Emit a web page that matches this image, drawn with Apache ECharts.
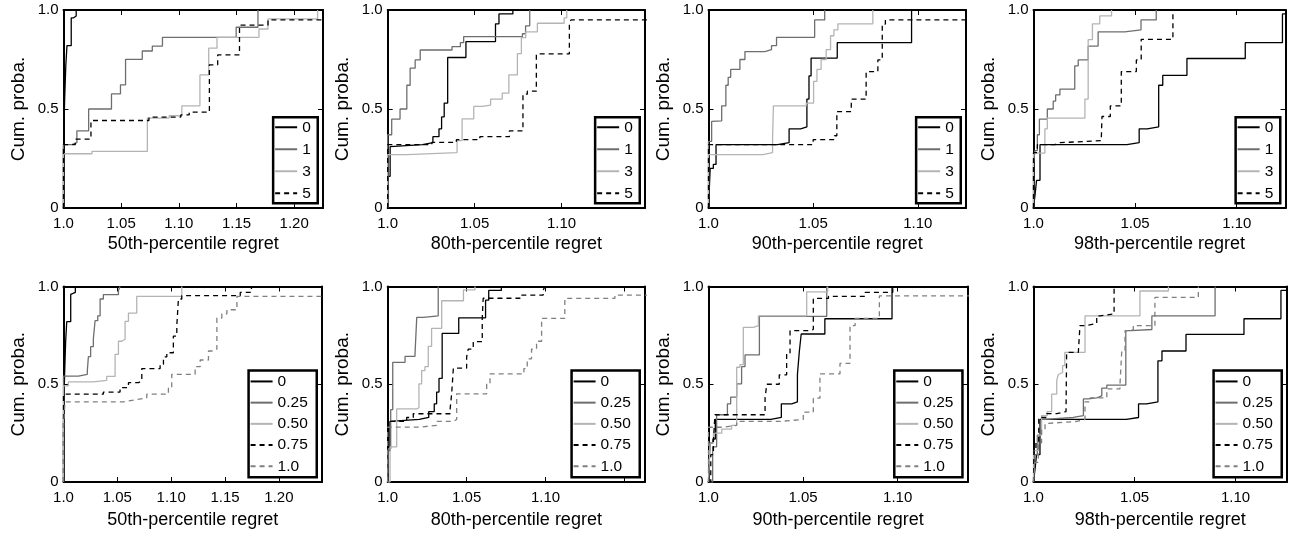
<!DOCTYPE html>
<html><head><meta charset="utf-8">
<script src="https://cdn.jsdelivr.net/npm/echarts@6/dist/echarts.min.js"></script>
<style>html,body{margin:0;padding:0;background:#fff}#c{width:1290px;height:539px}</style>
</head><body><div id="c"></div>
<script>
// ---------- DATA: step CDF points [regret, cumulative probability] ----------
// baseline "0" (shared by both rows)
const r50_0 = [[1.0,0],[1.0,0.30],[1.001,0.55],[1.002,0.72],[1.003,0.82],[1.0067,0.96],[1.0085,0.97],[1.011,1.0]];
const r80_0 = [[1.0,0],[1.0,0.16],[1.0014,0.31],[1.002,0.32],[1.02,0.33],[1.026,0.36],[1.0295,0.40],[1.031,0.46],[1.0325,0.53],[1.0345,0.76],[1.045,0.84],[1.062,0.93],[1.064,0.98],[1.072,1.0]];
const r90_0 = [[1.0,0],[1.0008,0.20],[1.0023,0.22],[1.0036,0.32],[1.033,0.33],[1.0385,0.40],[1.044,0.41],[1.047,0.55],[1.048,0.667],[1.049,0.757],[1.0615,0.835],[1.097,1.0]];
const r98_0 = [[1.0,0],[1.0008,0.07],[1.0015,0.14],[1.0032,0.32],[1.046,0.33],[1.052,0.40],[1.056,0.41],[1.0616,0.62],[1.0636,0.67],[1.0755,0.755],[1.1042,0.835],[1.1225,0.98],[1.3,0.98]];

// top row: "1", "3", "5"
const r50_1 = [[1.0,0],[1.0,0.32],[1.0073,0.33],[1.0116,0.39],[1.0218,0.50],[1.0416,0.576],[1.0494,0.622],[1.0538,0.751],[1.0683,0.793],[1.077,0.818],[1.0858,0.862],[1.1497,0.913],[1.1686,1.0]];
const r50_3 = [[1.0,0],[1.0,0.274],[1.0247,0.286],[1.0727,0.454],[1.0916,0.466],[1.1026,0.516],[1.1183,0.672],[1.1259,0.807],[1.1331,0.862],[1.1695,0.904],[1.1773,0.955],[1.2203,1.0]];
const r50_5 = [[1.0,0],[1.0,0.32],[1.0102,0.348],[1.0238,0.442],[1.0741,0.459],[1.1017,0.47],[1.109,0.484],[1.1265,0.723],[1.1337,0.773],[1.1526,0.924],[1.1773,0.95],[1.4,0.95]];

const r80_1 = [[1.0,0],[1.0,0.37],[1.0023,0.449],[1.0071,0.50],[1.011,0.62],[1.0129,0.706],[1.0158,0.748],[1.0187,0.798],[1.037,0.815],[1.0418,0.835],[1.0437,0.866],[1.0775,0.88],[1.0793,0.92],[1.0817,1.0]];
const r80_3 = [[1.0,0],[1.0,0.27],[1.011,0.28],[1.0399,0.34],[1.0428,0.45],[1.0495,0.513],[1.0543,0.52],[1.0592,0.55],[1.0659,0.58],[1.0697,0.672],[1.0746,0.78],[1.0769,0.86],[1.0794,0.89],[1.0861,0.933],[1.1015,0.96],[1.103,1.0]];
const r80_5 = [[1.0,0],[1.0,0.32],[1.0254,0.331],[1.0395,0.345],[1.053,0.36],[1.07,0.39],[1.0778,0.575],[1.0803,0.59],[1.0855,0.778],[1.1045,0.935],[1.1055,0.95],[1.4,0.95]];

const r90_1 = [[1.0,0],[1.0,0.336],[1.0015,0.437],[1.0023,0.44],[1.0063,0.516],[1.0083,0.62],[1.0094,0.66],[1.0106,0.70],[1.015,0.75],[1.0174,0.79],[1.0269,0.80],[1.0301,0.82],[1.0325,0.862],[1.0507,0.95],[1.0555,1.0]];
const r90_3 = [[1.0,0],[1.0,0.27],[1.0261,0.28],[1.0306,0.35],[1.031,0.516],[1.0467,0.53],[1.0502,0.64],[1.0518,0.70],[1.0538,0.75],[1.0562,0.80],[1.0583,0.87],[1.0599,0.90],[1.0618,0.93],[1.0785,1.0]];
const r90_5 = [[1.0,0],[1.0,0.32],[1.05,0.345],[1.0602,0.365],[1.0613,0.487],[1.0682,0.55],[1.0753,0.689],[1.0809,0.748],[1.083,0.929],[1.0845,0.95],[1.4,0.95]];

const r98_1 = [[1.0,0],[1.0,0.227],[1.0007,0.29],[1.0019,0.37],[1.0029,0.449],[1.0068,0.50],[1.0097,0.54],[1.0109,0.571],[1.013,0.60],[1.0203,0.718],[1.022,0.748],[1.0269,0.818],[1.0318,0.89],[1.0449,0.90],[1.0529,0.95],[1.0604,1.0]];
const r98_3 = [[1.0,0],[1.0,0.277],[1.0056,0.40],[1.0068,0.454],[1.0253,0.55],[1.0269,0.85],[1.029,0.93],[1.0326,0.97],[1.0384,1.0]];
const r98_5 = [[1.0,0],[1.0,0.28],[1.0019,0.32],[1.0105,0.33],[1.013,0.34],[1.0334,0.36],[1.0337,0.462],[1.0378,0.516],[1.0432,0.689],[1.0506,0.748],[1.053,0.852],[1.0686,1.0]];

// bottom row: "0.25", "0.50", "0.75", "1.0"
const s50_025 = [[1.0,0],[1.0,0.542],[1.0138,0.551],[1.0221,0.568],[1.0231,0.641],[1.0252,0.692],[1.0277,0.73],[1.0293,0.825],[1.0318,0.85],[1.034,0.936],[1.037,0.958],[1.051,0.98],[1.0525,1.0]];
const s50_050 = [[1.0,0],[1.0,0.492],[1.0045,0.512],[1.0277,0.52],[1.0401,0.54],[1.0479,0.653],[1.051,0.72],[1.0541,0.73],[1.0572,0.822],[1.0603,0.864],[1.068,0.949],[1.1098,1.0]];
const s50_075 = [[1.0,0],[1.0,0.449],[1.037,0.46],[1.0525,0.483],[1.0603,0.508],[1.0696,0.517],[1.0727,0.58],[1.0897,0.602],[1.0928,0.64],[1.0959,0.661],[1.102,0.746],[1.1052,0.80],[1.1067,0.936],[1.1098,0.953],[1.1641,0.97],[1.1745,1.0]];
const s50_100 = [[1.0,0],[1.0,0.28],[1.0014,0.41],[1.0556,0.42],[1.0665,0.43],[1.0773,0.449],[1.0974,0.483],[1.1005,0.551],[1.1222,0.59],[1.1269,0.624],[1.1346,0.67],[1.1393,0.68],[1.1424,0.839],[1.147,0.86],[1.1517,0.881],[1.161,0.949],[1.4,0.949]];

const s80_025 = [[1.0,0],[1.0004,0.17],[1.0019,0.37],[1.0032,0.612],[1.011,0.643],[1.0173,0.655],[1.0184,0.842],[1.0226,0.85],[1.032,1.0]];
const s80_050 = [[1.0,0],[1.0015,0.18],[1.0057,0.374],[1.0184,0.38],[1.0198,0.502],[1.0215,0.57],[1.0236,0.59],[1.0257,0.694],[1.0278,0.786],[1.0342,0.927],[1.048,0.983],[1.0553,1.0]];
const s80_075 = [[1.0,0],[1.0,0.31],[1.012,0.33],[1.0162,0.349],[1.0395,0.37],[1.0405,0.45],[1.0416,0.582],[1.05,0.64],[1.051,0.68],[1.0542,0.718],[1.0599,0.842],[1.0605,0.94],[1.0838,0.956],[1.0985,0.98],[1.0995,1.0]];
const s80_100 = [[1.0,0],[1.0,0.281],[1.0205,0.29],[1.031,0.31],[1.0416,0.32],[1.0437,0.451],[1.0627,0.50],[1.0648,0.553],[1.0863,0.58],[1.0884,0.63],[1.0911,0.68],[1.0943,0.72],[1.0975,0.837],[1.1122,0.939],[1.1439,0.956],[1.4,0.956]];

const s90_025 = [[1.0,0],[1.0022,0.18],[1.0043,0.344],[1.01,0.40],[1.0117,0.434],[1.0149,0.502],[1.0175,0.59],[1.0193,0.65],[1.0269,0.847],[1.0625,1.0]];
const s90_050 = [[1.0,0],[1.0008,0.20],[1.0026,0.25],[1.007,0.27],[1.0122,0.29],[1.0149,0.587],[1.0166,0.60],[1.0184,0.791],[1.0237,0.80],[1.0264,0.85],[1.0519,0.973],[1.063,1.0]];
const s90_075 = [[1.0,0],[1.0012,0.14],[1.0026,0.21],[1.0034,0.344],[1.0299,0.43],[1.0308,0.50],[1.0374,0.548],[1.0413,0.66],[1.0431,0.774],[1.0536,0.78],[1.0554,0.939],[1.0634,0.95],[1.0827,0.97],[1.0974,1.0]];
const s90_100 = [[1.0,0],[1.0,0.28],[1.0078,0.29],[1.0149,0.31],[1.0378,0.32],[1.0501,0.357],[1.0554,0.429],[1.0589,0.553],[1.0695,0.607],[1.0748,0.80],[1.0775,0.837],[1.0903,0.952],[1.4,0.952]];

const s98_025 = [[1.0,0],[1.0007,0.14],[1.0019,0.24],[1.0032,0.27],[1.004,0.32],[1.0057,0.33],[1.0197,0.34],[1.0247,0.425],[1.0272,0.43],[1.0313,0.44],[1.0338,0.48],[1.0363,0.496],[1.0457,0.774],[1.0482,0.78],[1.0586,0.85],[1.0899,1.0]];
const s98_050 = [[1.0,0],[1.0,0.16],[1.0024,0.24],[1.004,0.34],[1.0068,0.36],[1.009,0.45],[1.0115,0.52],[1.0123,0.55],[1.0131,0.56],[1.0144,0.595],[1.0155,0.663],[1.0255,0.85],[1.0527,0.977],[1.0668,1.0]];
const s98_075 = [[1.0,0],[1.0002,0.17],[1.0012,0.20],[1.0026,0.33],[1.0065,0.35],[1.0115,0.36],[1.0161,0.37],[1.0164,0.663],[1.0222,0.67],[1.023,0.80],[1.0255,0.81],[1.0313,0.85],[1.033,0.86],[1.0399,1.0]];
const s98_100 = [[1.0,0],[1.0007,0.1],[1.0024,0.2],[1.004,0.27],[1.0057,0.30],[1.0073,0.31],[1.0214,0.32],[1.0255,0.41],[1.028,0.43],[1.0363,0.476],[1.0428,0.497],[1.0437,0.672],[1.0453,0.774],[1.0478,0.78],[1.0494,0.80],[1.0601,0.944],[1.0816,1.0]];

// labels
const xTitles = ['50th-percentile regret','80th-percentile regret','90th-percentile regret','98th-percentile regret'];
const yTitle = 'Cum. proba.';
const topNames = ['0','1','3','5'];
const bottomNames = ['0','0.25','0.50','0.75','1.0'];
const xMaxTop = [1.225, 1.148, 1.123, 1.124];
const xMaxBottom = [1.24, 1.163, 1.137, 1.1255];
const yTickLabels = {0:'0', 0.5:'0.5', 1:'1.0'};

const topData = [[r50_0,r50_1,r50_3,r50_5],[r80_0,r80_1,r80_3,r80_5],[r90_0,r90_1,r90_3,r90_5],[r98_0,r98_1,r98_3,r98_5]];
const bottomData = [[r50_0,s50_025,s50_050,s50_075,s50_100],[r80_0,s80_025,s80_050,s80_075,s80_100],[r90_0,s90_025,s90_050,s90_075,s90_100],[r98_0,s98_025,s98_050,s98_075,s98_100]];

// ---------- STYLE / LAYOUT ----------
const W = 1290, H = 539;
const FONT = '"Liberation Sans", Arial, sans-serif';
const STY = {
  '0':   {c:'#000000', d:'solid'},
  '1':   {c:'#6e6e6e', d:'solid'},
  '3':   {c:'#b4b4b4', d:'solid'},
  '5':   {c:'#000000', d:[5,4]},
  '0.25':{c:'#6e6e6e', d:'solid'},
  '0.50':{c:'#b4b4b4', d:'solid'},
  '0.75':{c:'#000000', d:[5,4]},
  '1.0': {c:'#808080', d:[5,4]}
};
const lefts = [63.5, 387.7, 708.5, 1033.5];
const widthsTop = [259.5, 257.3, 257.5, 252];
const widthsBot = [258.5, 257.3, 259.2, 253.5];
const rows = [{top:10, h:198, nameGap:27, legGap:6, legPad:[2,7,2,1]},
              {top:286.5, h:195.5, nameGap:29, legGap:5.2, legPad:[3,9,3,1]}];
const hideLabel = {5:[23]}; // panel 6: no "1.15" label

const grids=[], xAxes=[], yAxes=[], series=[], legends=[];
function xFmt(panel){
  return function(v){
    const k = Math.round(v*20);
    if (Math.abs(v*20-k) > 1e-6) return '';
    if ((hideLabel[panel]||[]).includes(k)) return '';
    return k===20 ? '1.0' : (k/20).toFixed(2);
  };
}
for (let r=0;r<2;r++){
  for (let c=0;c<4;c++){
    const p = r*4+c;
    const left = lefts[c], width = (r===0?widthsTop:widthsBot)[c];
    const top = rows[r].top, height = rows[r].h;
    grids.push({left, top, width, height, containLabel:false, outerBoundsMode:'none', show:false});
    const xmax = (r===0?xMaxTop:xMaxBottom)[c];
    const axLine = {show:true, onZero:false, lineStyle:{color:'#000', width:2}};
    const tick = {show:true, inside:true, length:5, lineStyle:{color:'#000', width:1}};
    xAxes.push({type:'value', gridIndex:p, position:'bottom', min:1.0, max:xmax, interval:0.05,
      axisLine:axLine, axisTick:tick, splitLine:{show:false},
      axisLabel:{show:true, formatter:xFmt(p), color:'#000', fontSize:15, fontFamily:FONT, margin:8},
      name:xTitles[c], nameLocation:'middle', nameGap:rows[r].nameGap,
      nameTextStyle:{color:'#000', fontSize:18, fontFamily:FONT, verticalAlign:'top'}});
    xAxes.push({type:'value', gridIndex:p, position:'top', min:1.0, max:xmax, interval:0.05,
      axisLine:axLine, axisTick:tick, splitLine:{show:false}, axisLabel:{show:false}});
    yAxes.push({type:'value', gridIndex:p, position:'left', min:0, max:1, interval:0.5,
      axisLine:axLine, axisTick:tick, splitLine:{show:false},
      axisLabel:{formatter:v=>yTickLabels[v]!==undefined?yTickLabels[v]:'', color:'#000', fontSize:15, fontFamily:FONT, margin:5},
      name:yTitle, nameLocation:'middle', nameGap:35, nameRotate:90,
      nameTextStyle:{color:'#000', fontSize:19, fontFamily:FONT}});
    yAxes.push({type:'value', gridIndex:p, position:'right', min:0, max:1, interval:0.5,
      axisLine:axLine, axisTick:tick, splitLine:{show:false}, axisLabel:{show:false}});
    const names = r===0?topNames:bottomNames;
    const datas = (r===0?topData:bottomData)[c];
    names.forEach((nm,i)=>{
      const s = STY[nm];
      series.push({type:'line', name:nm, xAxisIndex:2*p, yAxisIndex:2*p, data:datas[i], step:'end',
        symbol:'none', showSymbol:false, clip:true, animation:false, color:s.c, z:2+i,
        lineStyle:{color:s.c, width:1.3, type:s.d}, emphasis:{disabled:true}});
    });
    const bw = 2.5;
    legends.push({orient:'vertical', data:names,
      right: W-(left+width)+4+bw/2, bottom: H-(top+height)+3.5+bw/2,
      itemWidth:22, itemHeight:14, itemGap:rows[r].legGap, padding:rows[r].legPad,
      borderColor:'#000', borderWidth:bw, backgroundColor:'#fff', borderRadius:0,
      selectedMode:false, z:10,
      itemStyle:{opacity:0, borderWidth:0},
      textStyle:{color:'#000', fontSize:15.5, fontFamily:FONT}});
  }
}
const chart = echarts.init(document.getElementById('c'), null, {renderer:'canvas'});
chart.setOption({animation:false, backgroundColor:'#fff', grid:grids, xAxis:xAxes, yAxis:yAxes, series, legend:legends});
</script></body></html>
